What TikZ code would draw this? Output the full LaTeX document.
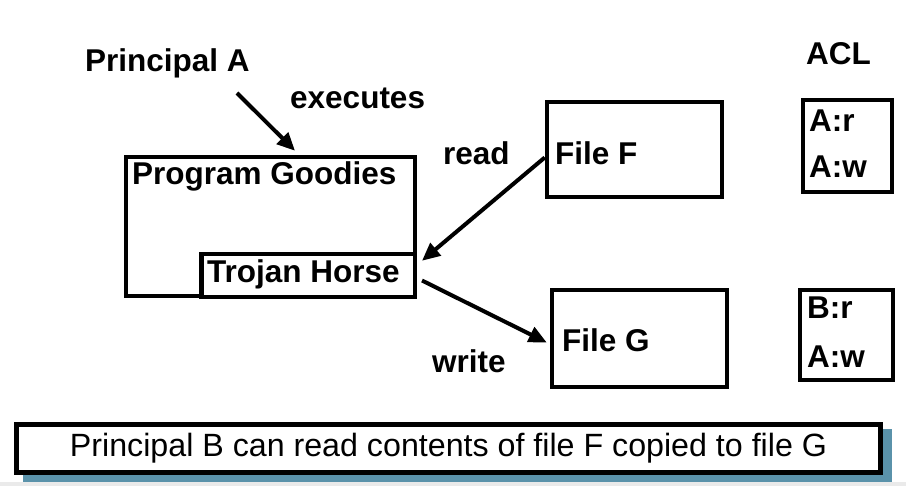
\documentclass[tikz,border=0pt]{standalone}
\usepackage{fontspec}
\setmainfont{Liberation Sans}
\usetikzlibrary{arrows.meta}
\definecolor{shadowblue}{RGB}{90,146,170}
\definecolor{bandgray}{RGB}{234,234,234}
\begin{document}
\begin{tikzpicture}[x=1pt,y=-1pt,
  box/.style={draw=black,line width=4.5pt,fill=white,inner sep=0pt},
  lbl/.style={font=\fontsize{31.5}{34}\selectfont\bfseries,inner sep=0pt,anchor=west},
  arr/.style={line width=4pt,-{Triangle[length=18pt,width=16pt]}}
]
\useasboundingbox (0,0) rectangle (906,486);
\fill[white] (0,0) rectangle (906,486);
\fill[bandgray] (0,482) rectangle (906,486);

% boxes
\node[box,minimum width=289pt,minimum height=139pt] (pg) at (270.5,226.5) {};
\node[box,minimum width=213.5pt,minimum height=43pt] (th) at (308,275.5) {};
\node[box,minimum width=175pt,minimum height=95pt] (ff) at (634.5,149.5) {};
\node[box,minimum width=175pt,minimum height=97pt] (fg) at (639.5,338.5) {};
\node[box,minimum width=89pt,minimum height=92pt] (acla) at (847.5,146) {};
\node[box,minimum width=93pt,minimum height=90pt] (aclb) at (846.5,335) {};

% texts
\node[lbl] (pa) at (85,63) {Principal A};
\node[lbl] (ex) at (290,98) {executes};
\node[lbl] (rd) at (443,153) {read};
\node[lbl] (wr) at (432,361) {write};
\node[lbl] (acl) at (806,54) {ACL};
\node[lbl] (pgt) at (132,176) {Program Goodies};
\node[lbl] (tht) at (207,274) {Trojan Horse};
\node[lbl] (fft) at (555,153) {File F};
\node[lbl] (fgt) at (562,340) {File G};
\node[lbl] (ar) at (809,121) {A:r};
\node[lbl] (aw1) at (809,167) {A:w};
\node[lbl] (br) at (807,308) {B:r};
\node[lbl] (aw2) at (807,357) {A:w};

% arrows
\coordinate (exs) at (237,93);
\draw[arr] (exs) -- ([xshift=24.5pt,yshift=4pt]pg.north);
\draw[arr] ([yshift=-8pt]ff.west) -- ([xshift=5pt,yshift=-9pt]th.north east);
\draw[arr] ([xshift=5pt,yshift=-5pt]th.east) -- ([xshift=-3pt,yshift=-4pt]fg.west);

% bottom statement
\node[draw=none,fill=shadowblue,minimum width=869pt,minimum height=53pt,inner sep=0pt] (sh) at (457,456) {};
\node[box,line width=5pt,minimum width=864pt,minimum height=48pt] (stmt) at (448.5,448.5)
  {\fontsize{32.2}{35}\selectfont Principal B can read contents of file F copied to file G};
\end{tikzpicture}
\end{document}
